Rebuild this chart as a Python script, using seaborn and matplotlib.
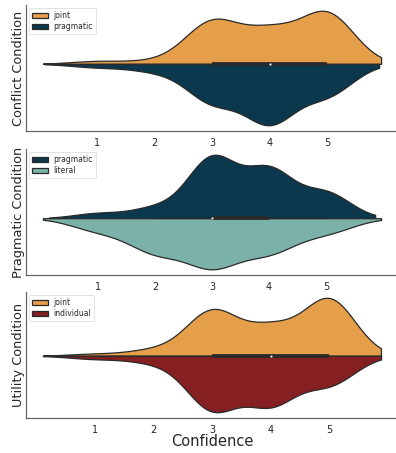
import numpy as np
import pandas as pd
import matplotlib
matplotlib.use("Agg")
import matplotlib.pyplot as plt
import seaborn as sns

# Confidence ratings (1-5 scale): number of responses at each level
levels = [1, 2, 3, 4, 5]

conflict_joint = [1, 1, 15, 11, 18]
conflict_pragmatic = [1, 2, 11, 17, 9]

pragmatic_pragmatic = [2, 4, 24, 19, 10]
pragmatic_literal = [6, 16, 23, 16, 7]

utility_joint = [1, 3, 23, 14, 29]
utility_individual = [1, 2, 17, 15, 9]

panel_titles = ["Conflict Condition", "Pragmatic Condition", "Utility Condition"]
panel_groups = [["joint", "pragmatic"], ["pragmatic", "literal"], ["joint", "individual"]]
panel_counts = [
    [conflict_joint, conflict_pragmatic],
    [pragmatic_pragmatic, pragmatic_literal],
    [utility_joint, utility_individual],
]

group_colors = {
    "joint": "#E59F4A",
    "pragmatic": "#0B384C",
    "literal": "#7AB1A8",
    "individual": "#851F21",
}
edge_gray = "#2a2a2a"


def expand(counts):
    return np.repeat(levels, counts).astype(float)


sns.set_theme(style="white")

fig = plt.figure(figsize=(3.96, 4.53), dpi=100)
H = 453.0
W = 396.0
# (top, bottom) of each axes in pixels
rows = [(5, 131), (149, 275), (292, 418)]
left = 26.0

for i, ((top, bottom), title, groups, counts) in enumerate(
    zip(rows, panel_titles, panel_groups, panel_counts)
):
    ax = fig.add_axes([left / W, 1 - bottom / H, 1 - left / W + 0.005, (bottom - top) / H])

    frames = []
    for g, c in zip(groups, counts):
        frames.append(pd.DataFrame({"Confidence": expand(c), "group": g, "cond": title}))
    df = pd.concat(frames, ignore_index=True)

    sns.violinplot(
        data=df, x="Confidence", y="cond", hue="group", hue_order=groups,
        split=True, inner=None, orient="h", palette=group_colors,
        common_norm=True, linecolor=edge_gray, linewidth=0.9, saturation=1, ax=ax,
    )

    # box summary of the pooled ratings along the split line
    pooled = df["Confidence"].to_numpy()
    q1, med, q3 = np.percentile(pooled, [25, 50, 75])
    iqr = q3 - q1
    lo = pooled[pooled >= q1 - 1.5 * iqr].min()
    hi = pooled[pooled <= q3 + 1.5 * iqr].max()
    ax.plot([lo, hi], [0, 0], color=edge_gray, lw=0.9, solid_capstyle="butt", zorder=3)
    ax.plot([q1, q3], [0, 0], color=edge_gray, lw=2.7, solid_capstyle="butt", zorder=3)
    ax.scatter([med], [0], s=3, color="white", edgecolor=edge_gray, linewidth=0.2, zorder=4)

    ax.set_yticks([])
    ax.set_ylabel(title, fontsize=9.25, labelpad=1)
    ax.set_xticks(levels)
    ax.set_xticklabels([str(v) for v in levels], fontsize=7)
    ax.tick_params(axis="x", pad=5, length=0)
    if i == 2:
        ax.set_xlabel("Confidence", fontsize=10.5, labelpad=-0.5)
    else:
        ax.set_xlabel("")
    sns.despine(ax=ax)
    for s in ["left", "bottom"]:
        ax.spines[s].set_color("#666666")
        ax.spines[s].set_linewidth(0.9)

    leg = ax.legend(loc="upper left", fontsize=5.5, frameon=True, borderpad=0.4,
                    handlelength=2.1, handleheight=0.7, handletextpad=0.65,
                    labelspacing=0.25, borderaxespad=0.4)
    leg.get_frame().set_linewidth(0.5)

fig.savefig("out.png", dpi=100)
